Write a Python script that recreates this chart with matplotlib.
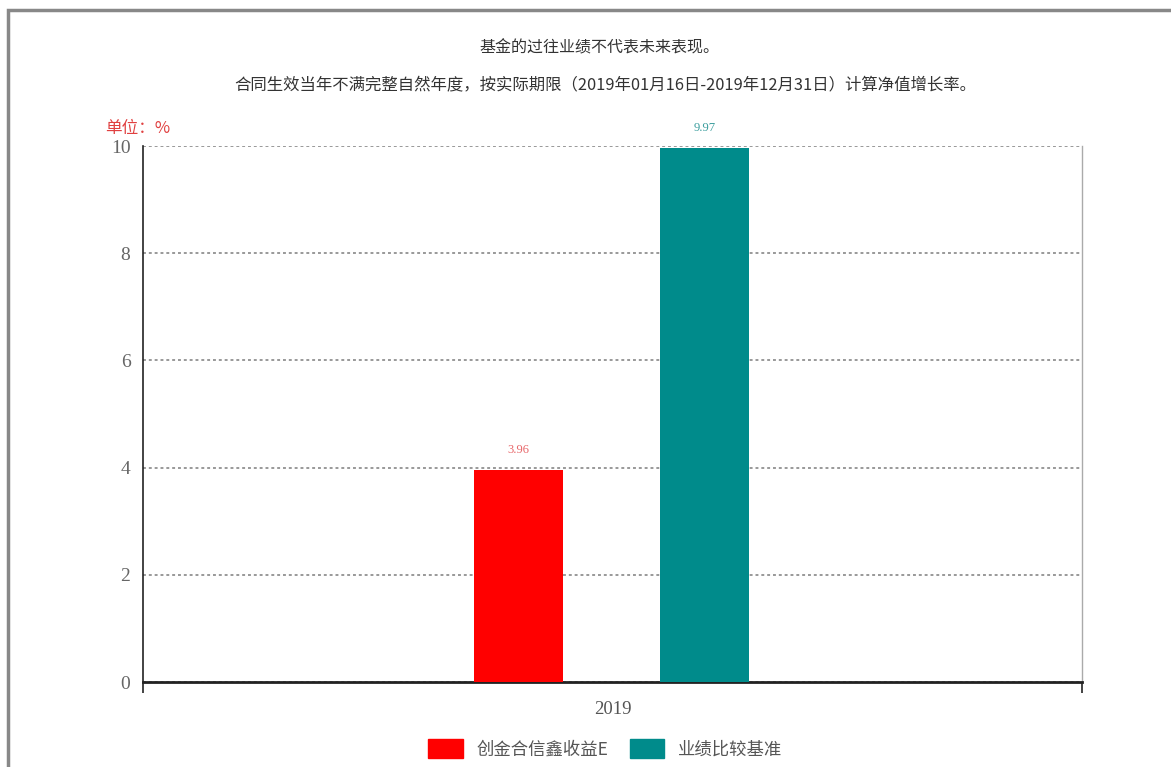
import matplotlib.pyplot as plt
import matplotlib.patches as mpatches
import numpy as np

plt.rcParams['font.family'] = ['Noto Sans CJK SC', 'DejaVu Sans']

# 数据
categories = ['2019']
series_names = ['创金合信鑫收益E', '业绩比较基准']
series_values = [[3.96], [9.97]]
series_colors = ['#FF0000', '#008B8B']
label_colors = ['#E8676A', '#3C9E9E']

fig = plt.figure(figsize=(11.71, 7.67), dpi=100)
ax = fig.add_axes([0.1221, 0.1108, 0.802, 0.6988])

x = np.arange(len(categories))
largura = 0.094
offsets = [-0.1, 0.098]

for vals, off, cor, lcor, nome in zip(series_values, offsets, series_colors, label_colors, series_names):
    bars = ax.bar(x + off, vals, width=largura, color=cor, label=nome, zorder=3)
    for b, v in zip(bars, vals):
        ax.text(b.get_x() + b.get_width() / 2, v + 0.25, f'{v:.2f}', ha='center', va='bottom',
                fontsize=9, color=lcor, family='Liberation Serif')

ax.set_xlim(-0.5, 0.5)
ax.set_ylim(0, 10)
ax.set_yticks([0, 2, 4, 6, 8, 10])
ax.set_xticks(x)
ax.set_xticklabels(categories, fontsize=13.5, family='Liberation Serif', color='#555555')
ax.set_xticks([-0.5, 0.5], minor=True)
ax.tick_params(axis='x', which='major', length=0, pad=14)
ax.tick_params(axis='x', which='minor', length=8, width=1.2, color='#222222')
ax.tick_params(axis='y', length=0, pad=9, labelsize=14, labelcolor='#666666')
for lab in ax.get_yticklabels():
    lab.set_family('Liberation Serif')

ax.grid(axis='y', linestyle=(0, (1.5, 1.5)), color='#999999', linewidth=1.4, zorder=0)
ax.spines['top'].set_visible(False)
ax.spines['right'].set_color('#AAAAAA')
ax.spines['right'].set_linewidth(1)
ax.spines['left'].set_color('#222222')
ax.spines['left'].set_linewidth(1.2)
ax.spines['bottom'].set_color('#222222')
ax.spines['bottom'].set_linewidth(2)

# 标题
fig.text(0.512, 0.938, '基金的过往业绩不代表未来表现。', ha='center', va='center', fontsize=11.5, color='#333333')
fig.text(0.517, 0.889, '合同生效当年不满完整自然年度，按实际期限（2019年01月16日-2019年12月31日）计算净值增长率。',
         ha='center', va='center', fontsize=11.8, color='#333333')
fig.text(0.090, 0.833, '单位：%', ha='left', va='center', fontsize=12, color='#E04040')

# 图例
handles = [mpatches.FancyBboxPatch((0, 0), 1, 1, boxstyle='round,pad=0.1', color=c) for c in series_colors]
fig.legend(handles, series_names, loc='center', bbox_to_anchor=(0.517, 0.024), ncol=2, frameon=False,
           fontsize=12.5, handlelength=2.0, handleheight=1.3, columnspacing=1.2, handletextpad=0.8,
           labelcolor='#555555')

# 外框
fig.patches.append(mpatches.Rectangle((0.007, -0.1), 1.1, 1.087, transform=fig.transFigure,
                                      fill=False, edgecolor='#888888', linewidth=2.5))

plt.savefig('out.png', dpi=100)
